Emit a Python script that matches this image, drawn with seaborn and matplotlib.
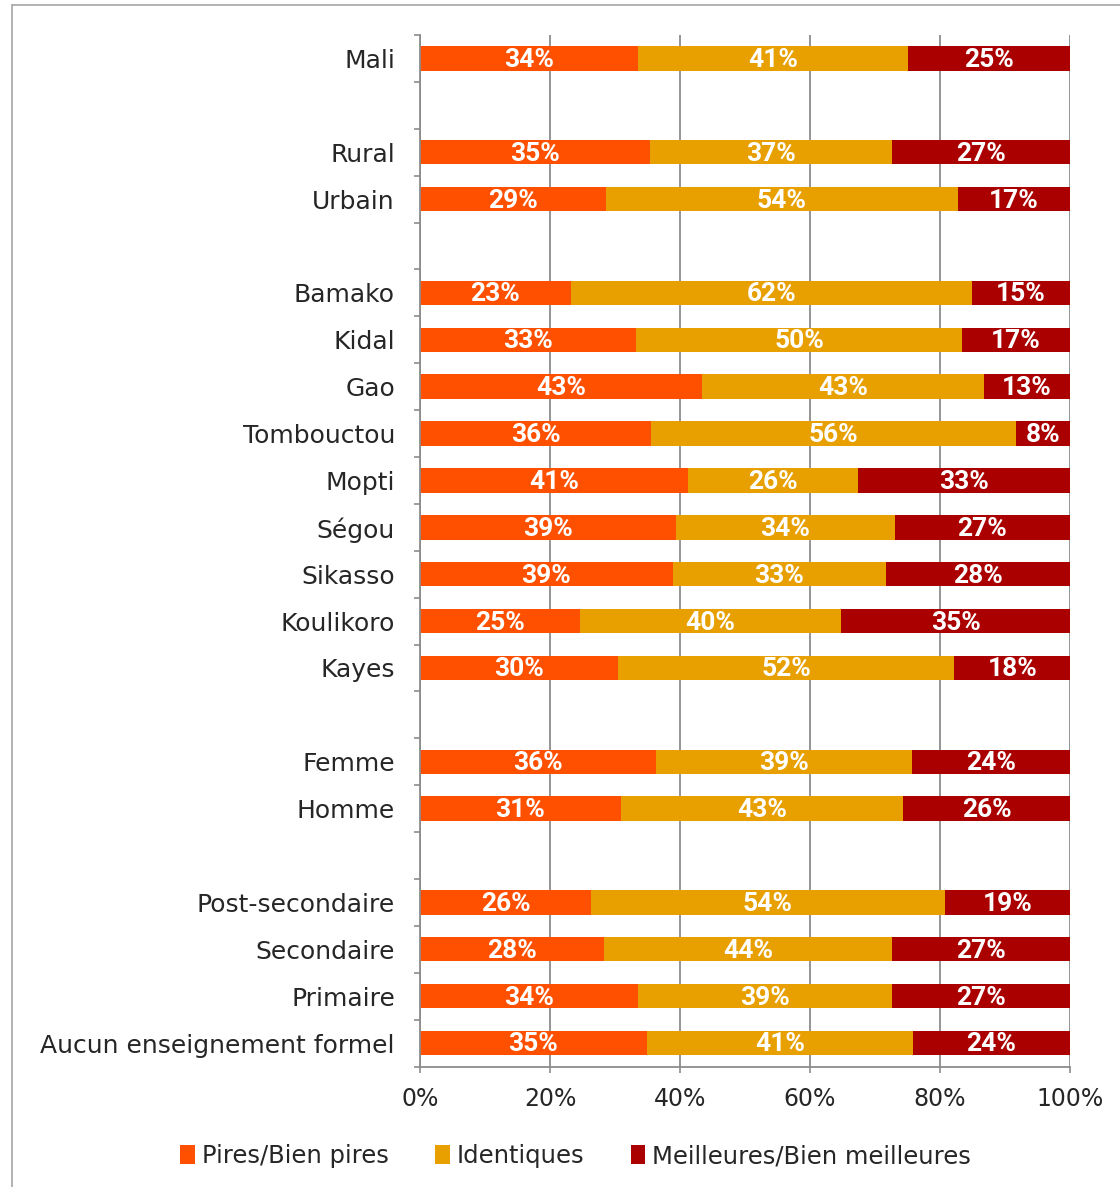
import numpy as np
import pandas as pd
import matplotlib
matplotlib.use("Agg")
import matplotlib.pyplot as plt
import seaborn as sns
from matplotlib.patches import Patch
from matplotlib.lines import Line2D
from matplotlib.ticker import FixedLocator

# ---------------- data ----------------
groups = ["Mali", "Rural", "Urbain", "Bamako", "Kidal", "Gao", "Tombouctou",
          "Mopti", "Ségou", "Sikasso", "Koulikoro", "Kayes", "Femme", "Homme",
          "Post-secondaire", "Secondaire", "Primaire", "Aucun enseignement formel"]
pires = [33.6, 35.4, 28.6, 23.2, 33.2, 43.4, 35.6, 41.3, 39.4, 38.9, 24.6, 30.4,
         36.3, 30.9, 26.3, 28.3, 33.6, 34.9]
identiques = [41.4, 37.2, 54.1, 61.7, 50.2, 43.4, 56.1, 26.1, 33.6, 32.8, 40.2, 51.8,
              39.4, 43.4, 54.4, 44.3, 39.0, 40.9]
meilleures = [25.0, 27.4, 17.3, 15.1, 16.6, 13.2, 8.3, 32.6, 27.0, 28.3, 35.2, 17.8,
              24.3, 25.7, 19.3, 27.4, 27.4, 24.2]
series_names = ["Pires/Bien pires", "Identiques", "Meilleures/Bien meilleures"]
# display order with blank separator rows
order = ["Mali", " ", "Rural", "Urbain", "  ", "Bamako", "Kidal", "Gao", "Tombouctou",
         "Mopti", "Ségou", "Sikasso", "Koulikoro", "Kayes", "   ", "Femme", "Homme",
         "    ", "Post-secondaire", "Secondaire", "Primaire", "Aucun enseignement formel"]
xticks = [0, 20, 40, 60, 80, 100]

ORANGE = "#FF5000"
GOLD = "#E8A000"
RED = "#AA0000"
GRID = "#8C8C8C"
TXT = "#262626"

df = pd.DataFrame({"group": groups, "p": pires, "i": identiques, "m": meilleures})
df["c2"] = df["p"] + df["i"]
df["c3"] = df["c2"] + df["m"]

sns.set_theme(style="white")
plt.rcParams["font.family"] = ["DejaVu Sans"]

fig = plt.figure(figsize=(11.2, 11.87), dpi=100)
ax = fig.add_axes([0.375, 0.1015, 0.5804, 0.869])

common = dict(data=df, y="group", order=order, orient="y", width=0.52,
              errorbar=None, saturation=1, linewidth=0, ax=ax)
sns.barplot(x="c3", color=RED, **common)
sns.barplot(x="c2", color=GOLD, **common)
sns.barplot(x="p", color=ORANGE, **common)

# value labels
lab_kw = dict(ha="center", va="center", color="white", fontsize=19,
              fontweight="bold", family=["Roboto", "DejaVu Sans"])
for _, r in df.iterrows():
    y = order.index(r["group"]) + 0.03
    ax.text(r["p"] / 2, y, f"{round(r['p'])}%", **lab_kw)
    ax.text(r["p"] + r["i"] / 2, y, f"{round(r['i'])}%", **lab_kw)
    ax.text(r["c2"] + r["m"] / 2, y, f"{round(r['m'])}%", **lab_kw)

ax.set_xlim(0, 100)
ax.set_ylim(len(order) - 0.5, -0.5)
ax.set_xlabel("")
ax.set_ylabel("")
ax.set_xticks(xticks)
ax.set_xticklabels([f"{v}%" for v in xticks])
ax.xaxis.grid(True, color=GRID, linewidth=1.3)
ax.yaxis.grid(False)
ax.set_axisbelow(True)

ax.set_yticks(range(len(order)))
ax.set_yticklabels([o.strip() for o in order])
ax.yaxis.set_minor_locator(FixedLocator(np.arange(-0.5, len(order), 1.0)))
ax.tick_params(axis="y", which="major", length=0, pad=18, labelsize=18, labelcolor=TXT)
ax.tick_params(axis="y", which="minor", length=4, width=1.2, color=GRID, left=True)
ax.tick_params(axis="x", which="major", length=4, width=1.2, color=GRID, bottom=True,
               pad=11, labelsize=17, labelcolor=TXT)

for s in ["top", "right"]:
    ax.spines[s].set_visible(False)
for s in ["left", "bottom"]:
    ax.spines[s].set_color(GRID)
    ax.spines[s].set_linewidth(1.3)

handles = [Patch(facecolor=c, edgecolor="none") for c in (ORANGE, GOLD, RED)]
fig.legend(handles, series_names, loc="center", bbox_to_anchor=(0.514, 0.026),
           ncol=3, frameon=False, fontsize=17.5, handlelength=0.6, handleheight=0.8,
           handletextpad=0.3, columnspacing=1.9, labelcolor=TXT)

# outer chart border (left and top)
fig.add_artist(Line2D([0.0107, 0.0107], [0, 1 - 5 / 1187], transform=fig.transFigure,
                      color="#A6A6A6", lw=1.2))
fig.add_artist(Line2D([0.0107, 1], [1 - 5 / 1187, 1 - 5 / 1187], transform=fig.transFigure,
                      color="#A6A6A6", lw=1.2))

fig.savefig("out.png", dpi=100)
